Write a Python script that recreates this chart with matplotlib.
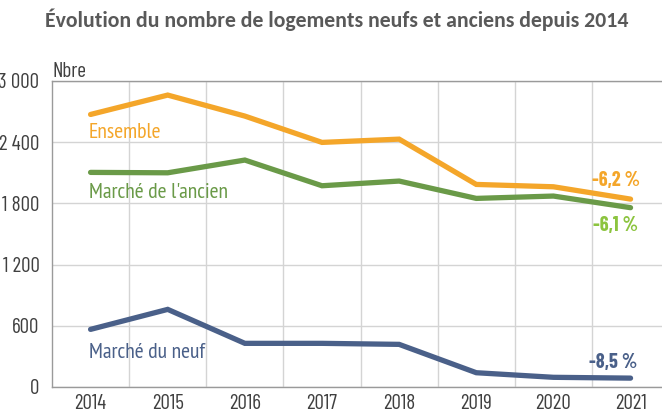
import numpy as np
import matplotlib.pyplot as plt

years = ["2014", "2015", "2016", "2017", "2018", "2019", "2020", "2021"]
ensemble = [2672, 2862, 2656, 2398, 2430, 1986, 1963, 1842]
ancien = [2104, 2100, 2225, 1973, 2019, 1849, 1872, 1758]
neuf = [565, 761, 428, 428, 418, 140, 95, 87]
y_ticks = [0, 600, 1200, 1800, 2400, 3000]
y_labels = ["0", "600", "1 200", "1 800", "2 400", "3 000"]

tick_font = ["Barlow Condensed", "DejaVu Sans"]
label_font = ["PT Sans Narrow", "DejaVu Sans"]
pct_font = ["Barlow Condensed", "DejaVu Sans"]
title_font = ["Carlito", "DejaVu Sans"]
c_ens = "#F4A62A"
c_anc = "#6A9A48"
c_neuf = "#4A6089"
grid_c = "#D4D4D4"
txt_c = "#404040"

fig = plt.figure(figsize=(6.62, 4.16), dpi=100)
renderer = fig.canvas.get_renderer()


def fit(t, width_px):
    # scale a text so its drawn width matches the reference
    w = t.get_window_extent(renderer).width
    t.set_fontsize(t.get_fontsize() * width_px / w)


ax = fig.add_axes([52 / 662, 29 / 416, 610 / 662, 306 / 416])

x = np.arange(len(years))
for vals, c in [(ensemble, c_ens), (ancien, c_anc), (neuf, c_neuf)]:
    ax.plot(x, vals, color=c, lw=3.8, solid_capstyle="round", solid_joinstyle="miter", zorder=3)

ax.set_xlim(-0.5, 610 / 77.14 - 0.5)
ax.set_ylim(0, 3000)
ax.set_xticks(x)
ax.set_yticks(y_ticks)
ax.set_xticks(np.arange(0.5, 7.5, 1), minor=True)
xt = ax.set_xticklabels(years, family=tick_font, fontsize=14, color=txt_c)
yt = ax.set_yticklabels(y_labels, family=tick_font, fontsize=14, color=txt_c)
probe = fig.text(0, 0, "2014", family=tick_font, fontsize=14)
fit(probe, 32)
tick_size = probe.get_fontsize()
probe.remove()
for t in xt + yt:
    t.set_fontsize(tick_size)
ax.tick_params(axis="both", which="both", length=0)
ax.tick_params(axis="x", pad=5)
ax.tick_params(axis="y", pad=9)
ax.grid(axis="y", which="major", color=grid_c, lw=1.0, zorder=0)
ax.grid(axis="x", which="minor", color=grid_c, lw=1.0, zorder=0)

for side in ["left", "bottom", "top"]:
    ax.spines[side].set_color("#9A9A9A")
    ax.spines[side].set_linewidth(1.0)
ax.spines["right"].set_visible(False)

ax.text(0, 1.0, "Nbre", transform=ax.transAxes, ha="left", va="bottom",
        family=tick_font, fontsize=tick_size, color=txt_c)

t_anc = ax.text(-0.02, 1911, "Marché de l'ancien", color=c_anc, family=label_font, fontsize=14, va="center", ha="left")
fit(t_anc, 141)
lab_size = t_anc.get_fontsize()
ax.text(-0.02, 2500, "Ensemble", color=c_ens, family=label_font, fontsize=lab_size, va="center", ha="left")
ax.text(-0.02, 343, "Marché du neuf", color=c_neuf, family=label_font, fontsize=lab_size, va="center", ha="left")

pct_size = 14.5
ax.text(6.806, 2029, "-6,2 %", color=c_ens, family=pct_font, fontsize=pct_size, fontweight="bold", va="center", ha="center")
ax.text(6.806, 1588, "-6,1 %", color="#8CC43F", family=pct_font, fontsize=pct_size, fontweight="bold", va="center", ha="center")
ax.text(6.78, 245, "-8,5 %", color=c_neuf, family=pct_font, fontsize=pct_size, fontweight="bold", va="center", ha="center")

title = fig.text(337 / 662, 1 - 20 / 416, "Évolution du nombre de logements neufs et anciens depuis 2014",
                 ha="center", va="center", family=title_font, fontweight="bold",
                 fontsize=14, color="#595959")
fit(title, 584)

fig.savefig("out.png", dpi=100)
